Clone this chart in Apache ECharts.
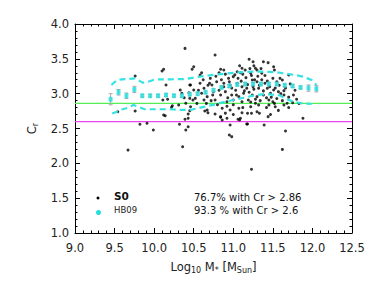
<!DOCTYPE html>
<html><head><meta charset="utf-8">
<script src="https://cdn.jsdelivr.net/npm/echarts@6/dist/echarts.min.js"></script>
<style>html,body{margin:0;padding:0;background:#fff}#c{width:374px;height:281px}</style>
</head><body><div id="c"></div>
<script>
// ---- data ----
var xTicks = [9.0, 9.5, 10.0, 10.5, 11.0, 11.5, 12.0, 12.5];
var yTicks = [1.0, 1.5, 2.0, 2.5, 3.0, 3.5, 4.0];
var s0Points = [
 [10.39,3.65],[10.77,3.555],[11.20,3.493],[11.25,3.459],[11.38,3.459],[11.44,3.445],
 [10.50,3.387],[10.48,3.35],[10.84,3.35],[10.88,3.34],[11.11,3.364],[11.15,3.34],[11.28,3.364],[11.30,3.34],[11.51,3.387],[11.52,3.34],
 [10.58,3.268],[10.82,3.301],[11.05,3.315],[11.09,3.301],[11.22,3.292],[11.36,3.292],[11.59,3.22],[11.70,3.268],
 [10.71,3.22],[10.94,3.22],[11.00,3.244],[11.24,3.196],[11.30,3.172],[11.40,3.149],[11.55,3.172],[11.62,3.196],
 [10.46,3.124],[10.58,3.149],[10.63,3.077],[10.73,3.124],[10.79,3.172],[10.88,3.149],[10.96,3.124],[11.05,3.149],
 [11.11,3.10],[11.17,3.077],[11.26,3.063],[11.32,3.077],[11.43,3.077],[11.51,3.053],[11.64,3.043],
 [10.50,3.053],[10.60,3.005],[10.67,2.957],[10.75,3.029],[10.84,2.981],[10.90,3.029],[10.98,2.981],[11.07,2.957],
 [11.13,3.005],[11.24,2.981],[11.30,2.957],[11.38,2.981],[11.47,3.005],[11.57,3.029],[11.64,2.981],
 [10.52,2.933],[10.63,2.909],[10.77,2.909],[10.92,2.885],[11.00,2.909],[11.11,2.885],[11.19,2.909],[11.28,2.862],
 [11.45,2.909],[11.50,2.885],[11.68,2.862],
 [10.46,2.813],[10.67,2.766],[10.86,2.79],[10.96,2.766],[11.07,2.79],[11.22,2.813],[11.32,2.837],[11.45,2.837],[11.53,2.813],[11.64,2.837],
 [10.84,2.67],[10.86,2.622],[10.92,2.647],[10.96,2.55],[11.09,2.647],[11.17,2.565],[11.44,2.67],[11.66,2.464],[11.88,2.647],
 [10.95,2.407],[10.98,2.383],[11.62,2.20],[11.23,1.915],
 [10.10,3.325],[10.12,3.35],[9.76,3.254],[10.15,3.124],[10.33,3.053],[10.35,3.005],[10.45,3.124],
 [10.11,2.909],[10.17,2.919],[10.23,2.827],[10.22,2.804],[10.31,2.837],[10.14,2.684],[10.45,2.756],[10.43,2.708],
 [10.39,2.632],[10.32,2.56],[10.43,2.526],[10.40,2.479],[10.36,2.239],[10.49,2.909],
 [9.54,2.741],[9.76,2.751],[9.82,2.56],[9.91,2.575],[9.99,2.479],[9.67,2.19],
 [10.44,3.014],[10.45,2.933],[10.40,2.862],[10.12,2.694],[10.43,2.647],[10.38,2.942],
 [10.64,2.751],[10.68,2.727],[10.77,2.708],[10.84,2.661],[11.06,2.632],[11.08,2.622],[11.11,2.727],[11.18,2.718],
 [11.23,2.718],[11.33,2.718],[11.39,2.55],[11.18,2.565],
 [10.62,3.20],[10.70,3.15],[10.78,3.25],[10.85,3.20],[10.90,3.28],[10.95,3.17],[11.02,3.27],[11.03,3.05],[11.06,3.22],
 [11.10,3.18],[11.12,3.28],[11.14,3.04],[11.16,3.23],[11.18,3.13],[11.20,3.02],[11.21,3.36],[11.23,3.26],[11.25,3.10],
 [11.27,3.20],[11.28,2.92],[11.31,3.25],[11.33,3.12],[11.34,2.90],[11.36,3.20],[11.38,3.04],[11.40,3.26],[11.42,2.94],
 [11.43,3.18],[11.46,3.10],[11.48,2.95],[11.50,3.22],[11.53,3.08],[11.55,2.93],[11.58,3.12],[11.60,3.00],[11.62,2.90],
 [11.66,3.08],[11.70,2.95],[11.72,3.14],[11.75,2.87],[11.78,3.05],[11.80,2.92],[10.98,3.08],[10.93,2.94],[10.88,3.10],
 [10.82,3.05],[10.74,2.98],[10.68,3.12],[10.56,3.05],[10.54,2.86],[10.60,3.30],[10.66,2.86],[10.72,2.90],[10.80,2.84],
 [10.92,2.82],[11.00,2.84],[11.04,2.98],[11.08,3.40],[11.26,3.40],[11.35,3.36],[11.12,2.80],[11.22,2.88],[11.42,2.80],
 [11.52,2.86],[11.57,2.76],[11.70,2.80],[11.76,2.98],[11.83,2.86],[11.47,2.70],[11.30,2.74],[11.00,2.70],[10.90,2.72]
];
var hbX   = [9.45,9.55,9.65,9.75,9.85,9.95,10.05,10.15,10.25,10.35,10.45,10.55,10.65,10.75,10.85,10.95,11.05,11.15,11.25,11.35,11.45,11.55,11.65,11.75,11.85,11.95,12.05];
var hbMed = [2.92,3.02,2.97,3.06,2.97,2.97,2.97,2.98,2.97,2.97,2.99,3.00,3.02,3.05,3.09,3.11,3.13,3.14,3.14,3.14,3.14,3.14,3.12,3.11,3.09,3.08,3.07];
var hbErr = [0.08,0.04,0.04,0.045,0.02,0.02,0.02,0.02,0.02,0.02,0.02,0.02,0.02,0.02,0.02,0.02,0.02,0.02,0.02,0.02,0.02,0.02,0.02,0.02,0.02,0.045,0.045];
var upperX = [9.46,9.53,9.59,9.67,9.76,9.82,9.86,9.92,9.99,10.07,10.20,10.39,10.52,10.64,10.81,10.93,11.08,11.23,11.40,11.55,11.65,11.78,11.88,11.99,12.05];
var upperY = [3.124,3.196,3.206,3.21,3.22,3.18,3.157,3.17,3.196,3.206,3.206,3.21,3.235,3.254,3.278,3.29,3.307,3.315,3.315,3.307,3.29,3.268,3.244,3.196,3.124];
var lowerX = [9.47,9.53,9.59,9.66,9.74,9.80,9.88,9.97,10.07,10.20,10.33,10.45,10.55,10.64,10.79,10.90,11.00,11.13,11.25,11.36,11.46,11.59,11.67,11.76,11.86,11.99];
var lowerY = [2.715,2.741,2.773,2.794,2.837,2.813,2.776,2.776,2.776,2.776,2.766,2.766,2.79,2.813,2.852,2.885,2.909,2.942,2.971,2.991,2.991,2.974,2.923,2.885,2.862,2.852];
var greenLevel = 2.86;
var magentaLevel = 2.6;
var legendNames = ['S0', 'HB09'];
var statLines = ['76.7% with Cr > 2.86', '93.3 % with Cr > 2.6'];

// ---- build ----
function zip(a, b) { return a.map(function (v, i) { return [v, b[i]]; }); }
var xMin = xTicks[0], xMax = xTicks[xTicks.length - 1];
var yMin = yTicks[0], yMax = yTicks[yTicks.length - 1];
var F = 'DejaVu Sans';
var axisCommon = {
  type: 'value', interval: 0.5,
  axisLine: { show: true, lineStyle: { color: '#000', width: 1 } },
  axisTick: { show: true, inside: true, length: 5, lineStyle: { color: '#000' } },
  minorTick: { show: true, splitNumber: 5, length: 2.5, lineStyle: { color: '#000' } },
  splitLine: { show: false }
};
var chart = echarts.init(document.getElementById('c'), null, { renderer: 'svg' });
chart.setOption({
  animation: false,
  backgroundColor: '#fff',
  grid: { left: 75, right: 22, top: 24, bottom: 48 },
  xAxis: [
    Object.assign({}, axisCommon, {
      position: 'bottom', min: xMin, max: xMax,
      axisLabel: { color: '#222', fontFamily: F, fontSize: 11.5, margin: 9, formatter: function (v) { return v.toFixed(1); } },
      name: '{a|Log}{s|10}{a| M}{s|*}{a| [M}{s|Sun}{a|]}', nameLocation: 'middle', nameGap: 27,
      nameTextStyle: { rich: {
        a: { fontFamily: F, fontSize: 11.5, color: '#222' },
        s: { fontFamily: F, fontSize: 8, color: '#222', verticalAlign: 'bottom', padding: [6, 0, 0, 0] }
      } }
    }),
    Object.assign({}, axisCommon, { position: 'top', min: xMin, max: xMax, axisLabel: { show: false } })
  ],
  yAxis: [
    Object.assign({}, axisCommon, {
      position: 'left', min: yMin, max: yMax,
      axisLabel: { color: '#222', fontFamily: F, fontSize: 11.5, margin: 6, formatter: function (v) { return v.toFixed(1); } },
      name: '{a|C}{s|r}', nameLocation: 'middle', nameRotate: 90, nameGap: 36,
      nameTextStyle: { rich: {
        a: { fontFamily: F, fontSize: 11.5, color: '#222' },
        s: { fontFamily: F, fontSize: 8, color: '#222', padding: [6, 0, 0, 0] }
      } }
    }),
    Object.assign({}, axisCommon, { position: 'right', min: yMin, max: yMax, axisLabel: { show: false } })
  ],
  series: [
    { type: 'line', data: [[xMin, greenLevel], [xMax, greenLevel]], symbol: 'none', silent: true,
      itemStyle: { color: '#55ee55' }, lineStyle: { color: '#55ee55', width: 1.2 }, z: 1 },
    { type: 'line', data: [[xMin, magentaLevel], [xMax, magentaLevel]], symbol: 'none', silent: true,
      itemStyle: { color: '#ee44ee' }, lineStyle: { color: '#ee44ee', width: 1.2 }, z: 1 },
    { name: legendNames[0], type: 'scatter', data: s0Points, symbol: 'circle', symbolSize: 3,
      itemStyle: { color: '#000' }, z: 2 },
    { type: 'line', data: zip(upperX, upperY), symbol: 'none',
      lineStyle: { color: '#33e3e3', width: 2.2, type: [6, 4] }, z: 3 },
    { type: 'line', data: zip(lowerX, lowerY), symbol: 'none',
      lineStyle: { color: '#33e3e3', width: 2.2, type: [6, 4] }, z: 3 },
    { type: 'custom', z: 4,
      data: hbX.map(function (x, i) { return [x, hbMed[i] - hbErr[i], hbMed[i] + hbErr[i]]; }),
      renderItem: function (params, api) {
        var lo = api.coord([api.value(0), api.value(1)]);
        var hi = api.coord([api.value(0), api.value(2)]);
        var st = { stroke: '#aaa', lineWidth: 1 };
        return { type: 'group', children: [
          { type: 'line', shape: { x1: lo[0], y1: lo[1], x2: hi[0], y2: hi[1] }, style: st },
          { type: 'line', shape: { x1: lo[0] - 2, y1: lo[1], x2: lo[0] + 2, y2: lo[1] }, style: st },
          { type: 'line', shape: { x1: hi[0] - 2, y1: hi[1], x2: hi[0] + 2, y2: hi[1] }, style: st }
        ] };
      } },
    { name: legendNames[1], type: 'scatter', data: zip(hbX, hbMed), symbol: 'roundRect', symbolSize: [4, 5],
      itemStyle: { color: '#22dede' }, z: 5 }
  ],
  graphic: [
    { type: 'circle', shape: { cx: 98, cy: 198, r: 1.5 }, style: { fill: '#000' } },
    { type: 'circle', shape: { cx: 98.5, cy: 212.5, r: 2.5 }, style: { fill: '#22dede' } },
    { type: 'text', x: 114, y: 196, style: { text: legendNames[0], font: 'bold 10.5px "DejaVu Sans"', fill: '#111', verticalAlign: 'middle' } },
    { type: 'text', x: 114, y: 210, style: { text: legendNames[1], font: '8.5px "DejaVu Sans"', fill: '#222', verticalAlign: 'middle' } },
    { type: 'text', x: 194, y: 197, style: { text: statLines[0], font: '10px "DejaVu Sans"', fill: '#111', verticalAlign: 'middle' } },
    { type: 'text', x: 194, y: 210, style: { text: statLines[1], font: '10px "DejaVu Sans"', fill: '#111', verticalAlign: 'middle' } }
  ]
});
</script></body></html>
